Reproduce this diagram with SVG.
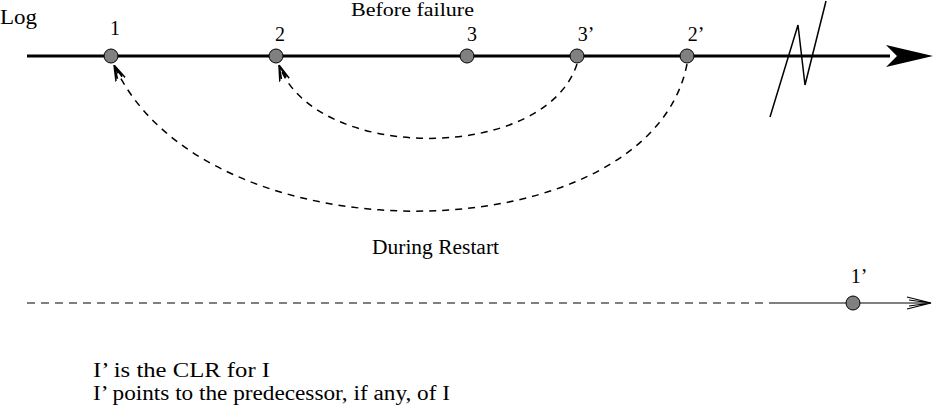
<svg xmlns="http://www.w3.org/2000/svg" width="934" height="409" viewBox="0 0 934 409">
<style>
text{font-family:"Liberation Serif","Times New Roman",serif;font-size:20px;fill:#000}
.dot{fill:#808080;stroke:#000;stroke-width:1}
.arc{fill:none;stroke:#000;stroke-width:1.5;stroke-dasharray:7 6}
</style>
<defs>
<marker id="open" viewBox="0 0 16 12" refX="16" refY="6" markerWidth="16" markerHeight="12" markerUnits="userSpaceOnUse" orient="auto">
<path d="M0,1 L16,6 L0,11 M2,3.5 L16,6 L2,8.5" fill="none" stroke="#000" stroke-width="1.5"/>
</marker>
</defs>
<text x="0" y="24" textLength="37" lengthAdjust="spacingAndGlyphs">Log</text>
<text x="351" y="16" style="font-size:18px" textLength="123" lengthAdjust="spacingAndGlyphs">Before failure</text>
<g id="connectors">
<line x1="27" y1="56" x2="890" y2="56" stroke="#000" stroke-width="3"/>
<path d="M933,56 L886,45 L897,56 L886,67 Z" fill="#000"/>
<polyline points="770,117 798,25 805,85 826,1" fill="none" stroke="#000" stroke-width="1.5"/>
<path class="arc" d="M577,64 C545,163 315,163 279,65" marker-end="url(#open)"/>
<path class="arc" d="M687,64 C650,255 205,265 114,65" marker-end="url(#open)"/>
<line x1="27" y1="303" x2="770" y2="303" stroke="#000" stroke-width="1" stroke-dasharray="8 6"/>
<line x1="770" y1="303" x2="931" y2="303" stroke="#000" stroke-width="1"/>
<path d="M907,297 L931,303 L907,309 M909,300 L931,303 L909,306" fill="none" stroke="#000" stroke-width="1.2"/>
</g>
<g id="n1"><circle class="dot" cx="111" cy="56" r="7"/><text x="115" y="35" text-anchor="middle">1</text></g>
<g id="n2"><circle class="dot" cx="276" cy="56" r="7"/><text x="280" y="41" text-anchor="middle">2</text></g>
<g id="n3"><circle class="dot" cx="467" cy="56" r="7"/><text x="472" y="41" text-anchor="middle">3</text></g>
<g id="n3p"><circle class="dot" cx="577" cy="56" r="7"/><text x="586" y="41" text-anchor="middle">3’</text></g>
<g id="n2p"><circle class="dot" cx="687" cy="56" r="7"/><text x="696" y="41" text-anchor="middle">2’</text></g>
<text x="372" y="254" textLength="127" lengthAdjust="spacingAndGlyphs">During Restart</text>
<g id="n1p"><circle class="dot" cx="853" cy="303" r="7"/><text x="859" y="283" text-anchor="middle">1’</text></g>
<text x="93" y="377" textLength="177" lengthAdjust="spacingAndGlyphs">I’ is the CLR for I</text>
<text x="93" y="400" textLength="357" lengthAdjust="spacingAndGlyphs">I’ points to the predecessor, if any, of I</text>
</svg>
